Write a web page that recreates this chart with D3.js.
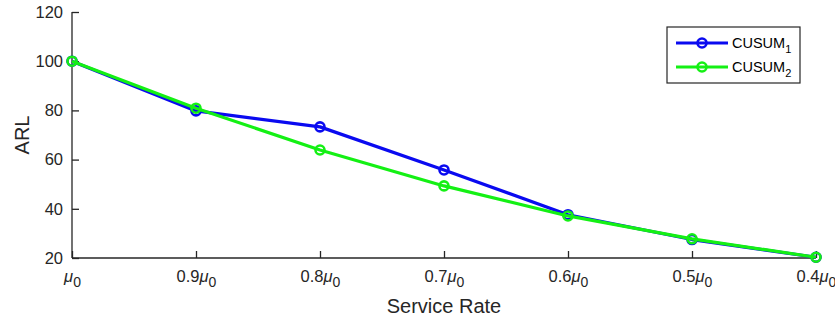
<!DOCTYPE html>
<html>
<head>
<meta charset="utf-8">
<script src="https://cdn.jsdelivr.net/npm/d3@7"></script>
<style>
  html, body { margin: 0; padding: 0; background: #fff; }
  svg { display: block; font-family: Arial, "Liberation Sans", sans-serif; }
</style>
</head>
<body>
<svg id="chart" width="835" height="322"></svg>
<script>
// ======================
// Dades
// ======================
const rates = [1, 0.9, 0.8, 0.7, 0.6, 0.5, 0.4];
const rateLabels = ["", "0.9", "0.8", "0.7", "0.6", "0.5", "0.4"];
const cusum1 = [100, 79.8, 73.3, 55.8, 37.6, 27.5, 20.3];
const cusum2 = [100, 80.9, 63.9, 49.3, 37.1, 27.8, 20.3];
const yTicks = [20, 40, 60, 80, 100, 120];

const series = [
  { name: "CUSUM", sub: "1", values: cusum1, color: "#0a0af0" },
  { name: "CUSUM", sub: "2", values: cusum2, color: "#14f014" }
];

const svg = d3.select("#chart");
const margin = { left: 72, right: 19, top: 12, bottom: 64 };
const width = 835, height = 322;

const x = d3.scalePoint()
  .domain(rates)
  .range([margin.left, width - margin.right]);

const y = d3.scaleLinear()
  .domain([20, 120])
  .range([height - margin.bottom, margin.top]);

const axisColor = "#262626";

// =========================
// Eixos
// =========================
const gx = svg.append("g")
  .attr("transform", `translate(0,${height - margin.bottom})`)
  .call(d3.axisBottom(x).tickSize(-7).tickFormat(""));
gx.select(".domain").attr("stroke", axisColor).attr("stroke-width", 1.3)
  .attr("d", `M${margin.left},0H${width - margin.right}`);
gx.selectAll(".tick line").attr("stroke", axisColor).attr("stroke-width", 1.3);

gx.selectAll(".tick").each(function (d, i) {
  const t = d3.select(this).append("text")
    .attr("y", 24)
    .attr("text-anchor", "middle")
    .style("font-size", "16.5px")
    .attr("fill", axisColor);
  if (rateLabels[i]) t.append("tspan").text(rateLabels[i]);
  t.append("tspan").text("μ").style("font-style", "italic");
  t.append("tspan").text("0").attr("dy", 5).style("font-size", "14px");
});

const gy = svg.append("g")
  .attr("transform", `translate(${margin.left},0)`)
  .call(d3.axisLeft(y).tickValues(yTicks).tickSize(-7).tickPadding(9));
gy.select(".domain").attr("stroke", axisColor).attr("stroke-width", 1.3)
  .attr("d", `M0,${y(120)}V${y(20)}`);
gy.selectAll(".tick line").attr("stroke", axisColor).attr("stroke-width", 1.3);
gy.selectAll(".tick text")
  .style("font-size", "16.5px")
  .attr("fill", axisColor)
  .attr("font-family", "Arial, 'Liberation Sans', sans-serif");

// Etiquetes dels eixos
svg.append("text")
  .attr("x", (margin.left + width - margin.right) / 2)
  .attr("y", 313)
  .attr("text-anchor", "middle")
  .style("font-size", "20px")
  .attr("fill", axisColor)
  .text("Service Rate");

svg.append("text")
  .attr("transform", `translate(29,${(y(20) + y(120)) / 2}) rotate(-90)`)
  .attr("text-anchor", "middle")
  .style("font-size", "20px")
  .attr("fill", axisColor)
  .text("ARL");

// =========================
// Línies
// =========================
const line = d3.line()
  .x((d, i) => x(rates[i]))
  .y(d => y(d));

series.forEach(s => {
  const g = svg.append("g");
  g.append("path")
    .datum(s.values)
    .attr("d", line)
    .attr("fill", "none")
    .attr("stroke", s.color)
    .attr("stroke-width", 3.2)
    .attr("stroke-linejoin", "round");

  g.selectAll("circle")
    .data(s.values)
    .enter()
    .append("circle")
    .attr("cx", (d, i) => x(rates[i]))
    .attr("cy", d => y(d))
    .attr("r", 4.5)
    .attr("fill", "none")
    .attr("stroke", s.color)
    .attr("stroke-width", 2.6);
});

// =========================
// Llegenda
// =========================
const legend = svg.append("g").attr("transform", "translate(667,27)");
legend.append("rect")
  .attr("width", 133)
  .attr("height", 56)
  .attr("fill", "white")
  .attr("stroke", axisColor)
  .attr("stroke-width", 1.2);

series.forEach((s, i) => {
  const row = legend.append("g").attr("transform", `translate(0,${16 + i * 24})`);
  row.append("line")
    .attr("x1", 9).attr("x2", 61)
    .attr("stroke", s.color)
    .attr("stroke-width", 3.2);
  row.append("circle")
    .attr("cx", 35).attr("r", 4.5)
    .attr("fill", "none")
    .attr("stroke", s.color)
    .attr("stroke-width", 2.6);
  const t = row.append("text")
    .attr("x", 65)
    .attr("y", 5)
    .style("font-size", "14.5px")
    .attr("fill", "#000");
  t.append("tspan").text(s.name);
  t.append("tspan").text(s.sub).attr("dy", 5).style("font-size", "11px");
});
</script>
</body>
</html>
